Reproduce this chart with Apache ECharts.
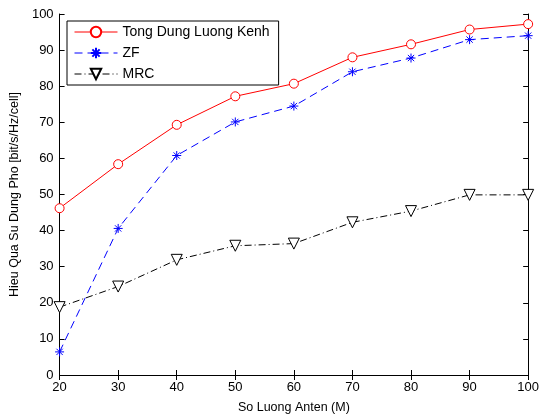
<!DOCTYPE html>
<html>
<head>
<meta charset="utf-8">
<script src="https://cdn.jsdelivr.net/npm/echarts@6/dist/echarts.min.js"></script>
<style>
html, body { margin: 0; padding: 0; background: #fff; }
#main { width: 542px; height: 419px; }
</style>
</head>
<body>
<div id="main"></div>
<script>
// du lieu doc tu hinh
var antens = [20, 30, 40, 50, 60, 70, 80, 90, 100];
var tongDung = [46.2, 58.4, 69.3, 77.2, 80.7, 88.0, 91.6, 95.7, 97.2];
var zf = [6.4, 40.6, 60.8, 70.1, 74.5, 84.0, 87.8, 92.9, 94.0];
var mrc = [18.8, 24.5, 31.9, 35.8, 36.4, 42.3, 45.4, 49.9, 49.9];

function pairs(ys) {
    return antens.map(function (x, i) { return [x, ys[i]]; });
}

var starPath = 'path://M0,-5L0,5M-5,0L5,0M-3.5,-3.5L3.5,3.5M-3.5,3.5L3.5,-3.5';
var triPath = 'path://M0,8L-7,-5L7,-5Z';
var fontName = 'Liberation Sans, Arial, sans-serif';

var myChart = echarts.init(document.getElementById('main'));

var axisCommon = {
    type: 'value',
    splitLine: { show: false },
    axisLine: { lineStyle: { color: '#000', width: 1 } },
    axisTick: { inside: true, length: 5, lineStyle: { color: '#000' } },
    axisLabel: { color: '#000', fontFamily: fontName, fontSize: 13, margin: 6 }
};

var option = {
    animation: false,
    backgroundColor: '#fff',
    grid: { left: 59, right: 10, top: 14, bottom: 40 },
    legend: {
        orient: 'vertical',
        left: 67,
        top: 21,
        width: 200,
        padding: [4, 9, 4, 7],
        itemGap: 7,
        itemWidth: 43,
        itemHeight: 13,
        backgroundColor: '#fff',
        borderColor: '#000',
        borderWidth: 1,
        lineStyle: { width: 1 },
        textStyle: { color: '#000', fontFamily: fontName, fontSize: 14 },
        data: ['Tong Dung Luong Kenh', 'ZF', 'MRC']
    },
    xAxis: [
        Object.assign({}, axisCommon, {
            min: 20, max: 100, interval: 10,
            name: 'So Luong Anten (M)',
            nameLocation: 'middle',
            nameGap: 26,
            nameTextStyle: { color: '#000', fontFamily: fontName, fontSize: 12.5 }
        }),
        Object.assign({}, axisCommon, {
            position: 'top', min: 20, max: 100, interval: 10,
            axisLabel: { show: false }
        })
    ],
    yAxis: [
        Object.assign({}, axisCommon, {
            min: 0, max: 100, interval: 10,
            name: 'Hieu Qua Su Dung Pho [bit/s/Hz/cell]',
            nameLocation: 'middle',
            nameGap: 33,
            nameTextStyle: { color: '#000', fontFamily: fontName, fontSize: 12.5 }
        }),
        Object.assign({}, axisCommon, {
            position: 'right', min: 0, max: 100, interval: 10,
            axisLabel: { show: false }
        })
    ],
    series: [
        {
            name: 'Tong Dung Luong Kenh',
            type: 'line',
            data: pairs(tongDung),
            symbol: 'circle',
            symbolSize: 9,
            showAllSymbol: true,
            lineStyle: { color: '#ff0000', width: 1 },
            itemStyle: { color: '#fff', borderColor: '#ff0000', borderWidth: 1 }
        },
        {
            name: 'ZF',
            type: 'line',
            data: pairs(zf),
            symbol: starPath,
            symbolSize: 9,
            lineStyle: { color: '#0000ff', width: 1, type: [8, 5] },
            itemStyle: { color: '#0000ff', borderColor: '#0000ff', borderWidth: 1 }
        },
        {
            name: 'MRC',
            type: 'line',
            data: pairs(mrc),
            symbol: triPath,
            symbolSize: 11,
            lineStyle: { color: '#000', width: 1, type: [7, 3, 1, 3] },
            itemStyle: { color: '#fff', borderColor: '#000', borderWidth: 1 }
        }
    ]
};

myChart.setOption(option);
</script>
</body>
</html>
